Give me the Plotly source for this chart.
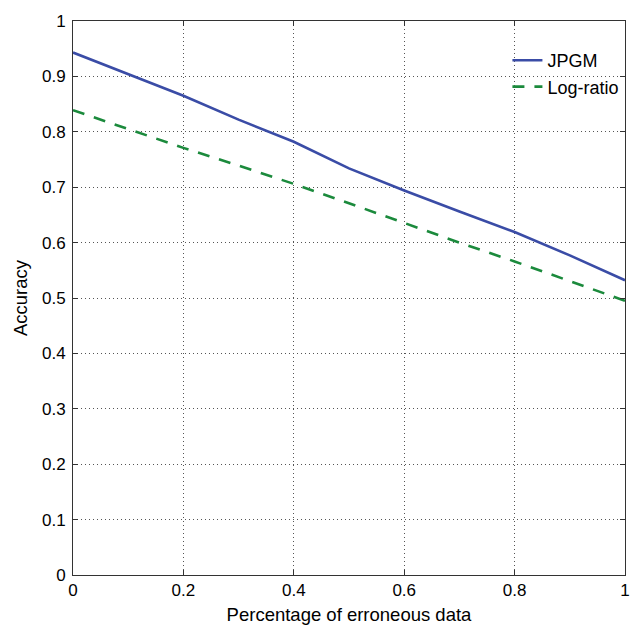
import plotly.graph_objects as go

x_vals = [0, 0.1, 0.2, 0.3, 0.4, 0.5, 0.6, 0.7, 0.8, 0.9, 1.0]
jpgm = [0.943, 0.904, 0.865, 0.822, 0.782, 0.734, 0.694, 0.656, 0.619, 0.577, 0.532]
log_ratio = [0.839, 0.805, 0.771, 0.739, 0.706, 0.671, 0.635, 0.600, 0.566, 0.530, 0.495]

x_ticks = [0, 0.2, 0.4, 0.6, 0.8, 1.0]
x_ticktext = ["0", "0.2", "0.4", "0.6", "0.8", "1"]
y_ticks = [0, 0.1, 0.2, 0.3, 0.4, 0.5, 0.6, 0.7, 0.8, 0.9, 1.0]
y_ticktext = ["0", "0.1", "0.2", "0.3", "0.4", "0.5", "0.6", "0.7", "0.8", "0.9", "1"]

font_family = "Liberation Sans, Arial, sans-serif"

fig = go.Figure()
fig.add_trace(go.Scatter(x=x_vals, y=jpgm, mode="lines", name="JPGM",
                         line=dict(color="#3a4ca6", width=2.6)))
fig.add_trace(go.Scatter(x=x_vals, y=log_ratio, mode="lines", name="Log-ratio",
                         line=dict(color="#1b8a3c", width=2.6, dash="12px,10px")))

axis_common = dict(
    showline=True, linecolor="#333333", linewidth=1, mirror="ticks",
    ticks="inside", ticklen=5, tickcolor="#333333",
    showgrid=True, gridcolor="#555555", griddash="1px,3px", gridwidth=1,
    zeroline=False, automargin=False, ticklabeloverflow="allow",
    tickfont=dict(family=font_family, size=17, color="black"),
)

fig.update_layout(
    width=623, height=617,
    margin=dict(l=65, r=6, t=13, b=50),
    paper_bgcolor="white", plot_bgcolor="white",
    font=dict(family=font_family, color="black"),
    xaxis=dict(range=[0, 1], tickvals=x_ticks, ticktext=x_ticktext,
               title=dict(text="Percentage of erroneous data", font=dict(size=18.5), standoff=12),
               **axis_common),
    yaxis=dict(range=[0, 1], tickvals=y_ticks, ticktext=y_ticktext,
               ticklabelstandoff=3,
               title=dict(text="Accuracy", font=dict(size=18.5), standoff=9),
               **axis_common),
    legend=dict(x=0.787, y=0.962, xanchor="left", yanchor="top",
                bgcolor="rgba(255,255,255,0)", borderwidth=0,
                font=dict(family=font_family, size=18, color="black"),
                tracegroupgap=0),
    showlegend=True,
)

fig.write_html("out.html")
